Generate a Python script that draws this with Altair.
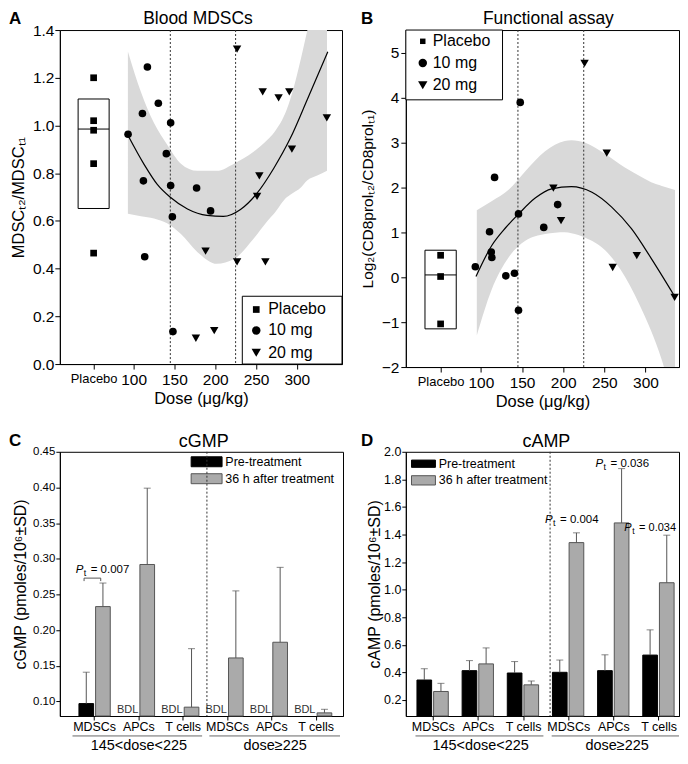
import altair as alt
import pandas as pd

FONT = "Liberation Sans"
DUMMY = pd.DataFrame({"d": [0]})

# ---------------- Panel A : Blood MDSCs ----------------
PLACEBO_X = 51
A_placebo_vals = [1.20, 1.02, 0.98, 0.84, 0.465]
A_10mg_dose = [93.2, 116.9, 110.8, 130.3, 145.4, 140.1, 112.0, 145.4, 177.2, 194.3, 147.5, 113.6, 148.2]
A_10mg_vals = [0.963, 1.245, 1.050, 1.093, 1.011, 0.882, 0.768, 0.748, 0.738, 0.642, 0.617, 0.450, 0.136]
A_20mg_dose = [226.8, 258.2, 277.7, 290.8, 336.8, 294.0, 254.1, 251.3, 188.2, 226.8, 261.5, 176.3, 198.8]
A_20mg_vals = [1.320, 1.141, 1.116, 1.141, 1.032, 0.901, 0.789, 0.703, 0.473, 0.428, 0.428, 0.108, 0.140]
A_box_q1, A_box_med, A_box_q3 = 0.652, 0.985, 1.111
A_fit_dose = [93, 113, 129, 145, 166, 190, 210, 231, 251, 272, 292, 313, 338]
A_fit_vals = [0.959, 0.836, 0.753, 0.699, 0.650, 0.623, 0.619, 0.648, 0.715, 0.822, 0.946, 1.110, 1.309]
A_band_dose = [93, 109, 125, 141, 158, 178, 202, 223, 247, 264, 272, 288, 292, 305, 313, 325, 337]
A_band_upper = [1.31, 1.14, 1.01, 0.92, 0.84, 0.81, 0.81, 0.84, 0.89, 0.94, 0.97, 1.07, 1.11, 1.28, 1.40, 1.58, 1.76]
A_band_lower = [0.63, 0.62, 0.61, 0.59, 0.545, 0.47, 0.42, 0.44, 0.525, 0.60, 0.63, 0.70, 0.71, 0.74, 0.77, 0.79, 0.81]

# ---------------- Panel B : Functional assay ----------------
B_placebo_vals = [0.487, 0.015, -1.04]
B_10mg_dose = [93.2, 110.5, 112.6, 113.3, 130.3, 140.8, 145.7, 145.7, 176.4, 193.3, 116.6, 147.8]
B_10mg_vals = [0.233, 1.01, 0.56, 0.437, 0.03, 0.087, 1.408, -0.735, 1.107, 1.616, 2.22, 3.89]
B_20mg_dose = [226.0, 253.0, 188.1, 197.4, 260.2, 289.5, 335.5]
B_20mg_vals = [4.76, 2.76, 1.98, 1.26, 0.215, 0.48, -0.45]
B_box_q1, B_box_med, B_box_q3 = -1.15, 0.05, 0.60
B_fit_dose = [94, 113, 130, 146, 166, 186, 210, 235, 259, 283, 307, 336]
B_fit_vals = [0.015, 0.70, 1.10, 1.41, 1.76, 1.965, 2.015, 1.89, 1.56, 1.08, 0.42, -0.44]
B_band_dose = [95, 113, 134, 154, 178, 202, 210, 227, 251, 275, 299, 307, 320, 336]
B_band_upper = [1.49, 1.69, 1.95, 2.36, 2.80, 3.03, 3.05, 2.99, 2.74, 2.44, 2.19, 2.11, 2.03, 1.94]
B_band_lower = [-1.30, -0.28, 0.45, 0.81, 0.96, 1.00, 0.98, 0.88, 0.60, 0.015, -0.86, -1.20, -1.85, -2.90]

CUT_DOSES = [145, 225]
GROUPS = ["Placebo", "10 mg", "20 mg"]

# ---------------- Panels C / D : cGMP, cAMP ----------------
CATS = ["MDSCs_1", "APCs_1", "T cells_1", "MDSCs_2", "APCs_2", "T cells_2"]
SERIES = ["Pre", "Post"]
C_pre = [0.097, None, None, None, None, None]
C_pre_err = [0.141, None, None, None, None, None]
C_post = [0.233, 0.292, 0.092, 0.161, 0.183, 0.084]
C_post_err = [0.266, 0.399, 0.174, 0.255, 0.288, 0.089]
D_pre = [0.344, 0.412, 0.395, 0.400, 0.412, 0.525]
D_pre_err = [0.426, 0.485, 0.478, 0.489, 0.527, 0.708]
D_post = [0.261, 0.461, 0.309, 1.341, 1.484, 1.050]
D_post_err = [0.320, 0.577, 0.337, 1.412, 1.878, 1.395]
C_YMIN, C_YMAX = 0.0796, 0.45
D_YMIN, D_YMAX = 0.083, 2.0


# ---------------- helpers ----------------
def txt(s, x, y, size, align="left", baseline="middle", color="black", **kw):
    return alt.Chart(DUMMY).mark_text(text=s, fontSize=size, font=FONT, align=align,
                                      baseline=baseline, color=color, **kw).encode(
        x=alt.value(x), y=alt.value(y))


def sym(shape, x, y, size):
    return alt.Chart(DUMMY).mark_point(shape=shape, size=size, filled=True, color="black",
                                       opacity=1).encode(x=alt.value(x), y=alt.value(y))


def vrect(x0, x1, y0, y1, fill, stroke, fo=1.0):
    return alt.Chart(DUMMY).mark_rect(fill=fill, stroke=stroke, strokeWidth=1, fillOpacity=fo).encode(
        x=alt.value(x0), x2=alt.value(x1), y=alt.value(y0), y2=alt.value(y1))


def vrule(x0, x1, y0, y1, color, dash=None):
    kw = {} if dash is None else {"strokeDash": dash}
    return alt.Chart(DUMMY).mark_rule(color=color, strokeWidth=1, **kw).encode(
        x=alt.value(x0), x2=alt.value(x1), y=alt.value(y0), y2=alt.value(y1))


def pt(x, y, rest, size=11.5):
    return [txt("P", x, y, size, baseline="alphabetic", fontStyle="italic"),
            txt("t", x + 8, y + 3, size * 0.78, baseline="alphabetic"),
            txt(rest, x + 15, y, size, baseline="alphabetic")]


def heading(letter, lx, ly, title, tx, ty, tsize):
    return [txt(letter, lx, ly, 17, baseline="alphabetic", fontWeight="bold"),
            txt(title, tx, ty, tsize, align="center", baseline="alphabetic")]


shape_scale = alt.Scale(domain=GROUPS, range=["square", "circle", "triangle-down"])
size_scale = alt.Scale(domain=GROUPS, range=[45, 72, 88])
BOX_HALF = 19


def scatter_panel(xs, ys, xax, yax, placebo, d10, v10, d20, v20, box, fit_d, fit_v,
                  band_d, band_u, band_l, W, H, extra):
    X = lambda f: alt.X(f, type="quantitative", scale=xs, axis=xax)
    Y = lambda f: alt.Y(f, type="quantitative", scale=ys, axis=yax)
    df_pts = pd.DataFrame({
        "x": [PLACEBO_X] * len(placebo) + d10 + d20,
        "y": placebo + v10 + v20,
        "grp": ["Placebo"] * len(placebo) + ["10 mg"] * len(d10) + ["20 mg"] * len(d20)})
    df_band = pd.DataFrame({"dose": band_d, "upper": band_u, "lower": band_l})
    df_fit = pd.DataFrame({"dose": fit_d, "val": fit_v})
    df_box = pd.DataFrame({"x0": [PLACEBO_X - BOX_HALF], "x1": [PLACEBO_X + BOX_HALF],
                           "q1": [box[0]], "med": [box[1]], "q3": [box[2]]})
    band = alt.Chart(df_band).mark_area(color="#d9d9d9", interpolate="monotone", clip=True).encode(
        x=X("dose"), y=Y("upper"), y2="lower")
    vl = alt.Chart(pd.DataFrame({"dose": CUT_DOSES})).mark_rule(
        color="#333333", strokeDash=[2, 2], strokeWidth=1).encode(x=X("dose"))
    bx = alt.Chart(df_box).mark_rect(fillOpacity=0, stroke="black", strokeWidth=1).encode(
        x=X("x0"), x2="x1", y=Y("q1"), y2="q3")
    med = alt.Chart(df_box).mark_rule(color="black", strokeWidth=1).encode(
        x=X("x0"), x2="x1", y=Y("med"))
    fit = alt.Chart(df_fit).mark_line(color="black", strokeWidth=1.2, interpolate="monotone").encode(
        x=X("dose"), y=Y("val"))
    pts = alt.Chart(df_pts).mark_point(filled=True, opacity=1, color="black").encode(
        x=X("x"), y=Y("y"),
        shape=alt.Shape("grp:N", scale=shape_scale, legend=None),
        size=alt.Size("grp:O", scale=size_scale, legend=None))
    return alt.layer(band, vl, bx, med, fit, pts, *extra).properties(width=W, height=H)


def xaxis_dose():
    return alt.Axis(title="Dose (μg/kg)", values=[PLACEBO_X, 100, 150, 200, 250, 300],
                    labelExpr=f"datum.value == {PLACEBO_X} ? 'Placebo' : datum.label",
                    labelFontSize={"condition": {"test": f"datum.value == {PLACEBO_X}", "value": 13},
                                   "value": 15.5},
                    tickSize=5, labelPadding=4, titleFontSize=16.5, titlePadding=2, grid=False)


# ---------------- Panel A ----------------
WA, HA = 283, 335
A_extra = [
    vrect(183, 283, HA - 68, HA, "white", "black"),
    sym("square", 197, HA - 54.7, 45), txt("Placebo", 209, HA - 54.7, 16),
    sym("circle", 197, HA - 33.7, 72), txt("10 mg", 209, HA - 33.7, 16),
    sym("triangle-down", 197, HA - 11.3, 88), txt("20 mg", 209, HA - 11.3, 16),
    *heading("A", -51, -6, "Blood MDSCs", 138.5, -6, 17.5),
]
chartA = scatter_panel(
    alt.Scale(domain=[9.6, 355.4], nice=False, zero=False),
    alt.Scale(domain=[0, 1.4], nice=False, zero=False),
    xaxis_dose(),
    alt.Axis(title="MDSCₜ₂/MDSCₜ₁", values=[0, 0.2, 0.4, 0.6, 0.8, 1.0, 1.2, 1.4], format=".1f",
             tickSize=5, labelPadding=1, labelFontSize=15.5, titleFontSize=16.5, titlePadding=6, grid=False),
    A_placebo_vals, A_10mg_dose, A_10mg_vals, A_20mg_dose, A_20mg_vals,
    (A_box_q1, A_box_med, A_box_q3), A_fit_dose, A_fit_vals,
    A_band_dose, A_band_upper, A_band_lower, WA, HA, A_extra)

# ---------------- Panel B ----------------
WB, HB = 274, 338
B_extra = [
    vrect(0, 97, 0, 70, "white", "black"),
    sym("square", 17, 11.3, 30), txt("Placebo", 27, 11.3, 16),
    sym("circle", 17, 33, 72), txt("10 mg", 27, 33, 16),
    sym("triangle-down", 17, 55.3, 88), txt("20 mg", 27, 55.3, 16),
    *heading("B", -45, -6, "Functional assay", 143, -6, 17.5),
]
chartB = scatter_panel(
    alt.Scale(domain=[8.7, 8.7 + WB / 0.825], nice=False, zero=False),
    alt.Scale(domain=[-2, 5.5], nice=False, zero=False),
    xaxis_dose(),
    alt.Axis(title="Log₂(CD8prolₜ₂/CD8prolₜ₁)", values=[-2, -1, 0, 1, 2, 3, 4, 5], format="d",
             tickSize=5, labelPadding=2, labelFontSize=15.5, titleFontSize=15.5, titlePadding=6, grid=False),
    B_placebo_vals, B_10mg_dose, B_10mg_vals, B_20mg_dose, B_20mg_vals,
    (B_box_q1, B_box_med, B_box_q3), B_fit_dose, B_fit_vals,
    B_band_dose, B_band_upper, B_band_lower, WB, HB, B_extra)


# ---------------- bar panels ----------------
def bar_panel(pre, pre_err, post, post_err, ymin, ymax, yvals, yfmt, ytitle, ylab_size,
              pad_in, pad_out, align, off_pad, ytitle_pad, W, H, extra):
    rows = []
    for i, c in enumerate(CATS):
        if pre[i] is not None:
            rows.append({"cat": c, "series": "Pre", "value": pre[i], "err": pre_err[i]})
        if post[i] is not None:
            rows.append({"cat": c, "series": "Post", "value": post[i], "err": post_err[i]})
    df = pd.DataFrame(rows)
    bdl = pd.DataFrame({"cat": [c for i, c in enumerate(CATS) if pre[i] is None], "series": "Pre"})
    xs = alt.Scale(domain=CATS, paddingInner=pad_in, paddingOuter=pad_out, align=align)
    xo = alt.Scale(domain=SERIES, paddingInner=off_pad)
    ys = alt.Scale(domain=[ymin, ymax], nice=False, zero=False)
    xax = alt.Axis(title=None, labelExpr="split(datum.label, '_')[0]", labelAngle=0, tickSize=4,
                   labelPadding=1, labelFontSize=12.5, grid=False)
    yax = alt.Axis(title=ytitle, values=yvals, format=yfmt, tickSize=4, labelPadding=1,
                   labelFontSize=ylab_size, titleFontSize=16, titlePadding=ytitle_pad, grid=False,
                   labelOverlap=False)
    X = alt.X("cat:N", scale=xs, axis=xax)
    XO = alt.XOffset("series:N", scale=xo)
    bars = alt.Chart(df).mark_bar(strokeWidth=1).encode(
        x=X, xOffset=XO, y=alt.Y("value:Q", scale=ys, axis=yax), y2=alt.datum(ymin),
        color=alt.Color("series:N", scale=alt.Scale(domain=SERIES, range=["#000000", "#aaaaaa"]), legend=None),
        stroke=alt.Stroke("series:N", scale=alt.Scale(domain=SERIES, range=["#000000", "#555555"]), legend=None))
    err = alt.Chart(df).mark_rule(color="#555555", strokeWidth=1).encode(
        x=X, xOffset=XO, y=alt.Y("value:Q", scale=ys, axis=yax), y2="err:Q")
    cap = alt.Chart(df).mark_tick(color="#555555", size=7, thickness=1).encode(
        x=X, xOffset=XO, y=alt.Y("err:Q", scale=ys, axis=yax))
    layers = [bars, err, cap]
    if len(bdl):
        layers.append(alt.Chart(bdl).mark_text(text="BDL", baseline="bottom", fontSize=11, font=FONT,
                                               dx=-3, dy=-1, color="#333333").encode(
            x=X, xOffset=XO, y=alt.YDatum(ymin, type="quantitative", scale=ys, axis=yax)))
    return alt.layer(*layers, *extra).properties(width=W, height=H)


HC = 265
GL_Y = HC + 20      # group underline
GT_Y = HC + 34      # group label baseline
WC = 284
C_extra = [
    vrect(131.7, 162.7, 5, 15, "black", "black"),
    vrect(131.7, 162.7, 22, 32, "#aaaaaa", "#555555"),
    vrule(147.5, 147.5, 0, HC, "#333333", [2, 2]),
    txt("Pre-treatment", 166, 10, 12.5),
    txt("36 h after treatment", 166, 27, 12.5),
    *pt(16, 121.6, "= 0.007"),
    vrule(24.3, 41, 126.7, 126.7, "#555555"),
    vrule(24.3, 24.3, 126.7, 129.7, "#555555"),
    vrule(41, 41, 126.7, 129.7, "#555555"),
    vrule(12.7, 142.7, GL_Y, GL_Y, "#666666"),
    vrule(150, 281, GL_Y, GL_Y, "#666666"),
    txt("145<dose<225", 79.3, GT_Y, 14.5, align="center", baseline="alphabetic"),
    txt("dose≥225", 216, GT_Y, 14.5, align="center", baseline="alphabetic"),
    *heading("C", -51, -6, "cGMP", 144.3, -5, 18),
]
chartC = bar_panel(C_pre, C_pre_err, C_post, C_post_err, C_YMIN, C_YMAX,
                   [0.10, 0.15, 0.20, 0.25, 0.30, 0.35, 0.40, 0.45], ".2f",
                   "cGMP (pmoles/10⁶±SD)", 11.5, 0.293, 0.342, 0.63, 0.12, 4, WC, HC, C_extra)

WD, HD = 274, 265
D_extra = [
    vrect(5.7, 29.7, 8.3, 15.6, "black", "black"),
    vrect(5.7, 29.7, 24, 33.3, "#aaaaaa", "#555555"),
    vrule(144.7, 144.7, 0, HD, "#333333", [2, 2]),
    txt("Pre-treatment", 33, 12, 12.5),
    txt("36 h after treatment", 33, 28.6, 12.5),
    *pt(139.7, 71.3, "= 0.004"),
    *pt(190.3, 15.4, "= 0.036"),
    *pt(219, 79.6, "= 0.034", size=11),
    vrule(9.7, 138, GL_Y, GL_Y, "#666666"),
    vrule(146.3, 274, GL_Y, GL_Y, "#666666"),
    txt("145<dose<225", 75, GT_Y, 14.5, align="center", baseline="alphabetic"),
    txt("dose≥225", 212, GT_Y, 14.5, align="center", baseline="alphabetic"),
    *heading("D", -45, -6, "cAMP", 141, -5, 18),
]
chartD = bar_panel(D_pre, D_pre_err, D_post, D_post_err, D_YMIN, D_YMAX,
                   [0.2, 0.4, 0.6, 0.8, 1.0, 1.2, 1.4, 1.6, 1.8, 2.0], ".1f",
                   "cAMP (pmoles/10⁶±SD)", 12.5, 0.28, 0.1645, 0.75, 0.137, 1, WD, HD, D_extra)

chart = alt.concat(chartA, chartB, chartC, chartD, columns=2,
                   spacing={"row": 85, "column": 63}, bounds="flush", align="each",
                   padding={"left": 0, "top": 0, "right": 0, "bottom": 0}
).configure(font=FONT, padding={"left": 0, "top": 0, "right": 0, "bottom": 0}).configure_axis(
    labelColor="black", titleColor="black", domainColor="black", tickColor="black",
    labelFont=FONT, titleFont=FONT, titleFontWeight="normal", grid=False, labelOverlap=False
).configure_view(stroke="black", strokeWidth=1)

chart.save("out.html", embed_options={"renderer": "svg", "actions": False})
